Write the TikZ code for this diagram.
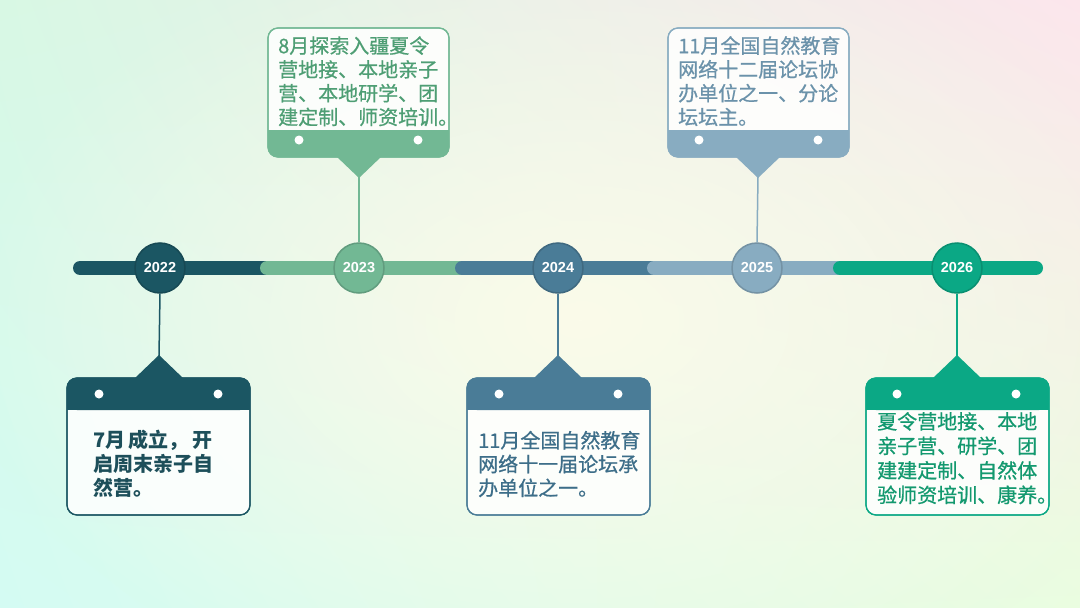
\documentclass[tikz,border=0pt]{standalone}
\usepackage{fontspec}
\usetikzlibrary{fadings,shadings}
\newfontfamily\cjk[FakeBold=0.7]{Noto Sans CJK SC}
\newfontfamily\cjkb{Noto Sans CJK SC}
\newfontfamily\yrfont{Liberation Sans}
\definecolor{bgTL}{HTML}{D8F8E4}
\definecolor{bgTR}{HTML}{FCE6EC}
\definecolor{bgBL}{HTML}{D4FBF3}
\definecolor{bgBR}{HTML}{EAFDE0}
\definecolor{bgC}{HTML}{FBFBEA}
\definecolor{ca}{HTML}{1B5663}
\definecolor{cb}{HTML}{72B894}
\definecolor{cc}{HTML}{4A7C97}
\definecolor{cd}{HTML}{88ACC1}
\definecolor{ce}{HTML}{0BA885}
\definecolor{ta}{HTML}{1D4F5A}
\definecolor{tb}{HTML}{4E9E74}
\definecolor{tc}{HTML}{3D6E89}
\definecolor{td}{HTML}{6B92AA}
\definecolor{te}{HTML}{13996F}
\tikzfading[name=softfade, inner color=transparent!0, outer color=transparent!100]
\tikzset{
  yearnode/.style={circle, minimum size=50pt, inner sep=0pt, line width=1.5pt, text=white, font=\yrfont\bfseries\fontsize{14.5}{14.5}\selectfont},
  bartrack/.style={line width=14pt, line cap=round},
  stem/.style={line width=1.5pt},
  boxbody/.style={fill=white, fill opacity=0.85, line width=1.2pt, rounded corners=10pt},
  dot/.style={fill=white},
  boxtext/.style={anchor=base west, align=left, inner sep=0pt, font=\cjk\fontsize{20}{23.8}\selectfont},
}
\begin{document}
\begin{tikzpicture}[x=1pt, y=-1pt]
\useasboundingbox (0,0) rectangle (1080,608);
% background
\shade[upper left=bgTL, upper right=bgTR, lower left=bgBL, lower right=bgBR] (0,0) rectangle (1080,608);
\fill[bgC, path fading=softfade] (580,320) ellipse (620 and 400);

% timeline bar
\draw[bartrack, ca] (80,268) -- (266,268);
\draw[bartrack, cb] (267,268) -- (460,268);
\draw[bartrack, cc] (462,268) -- (652,268);
\draw[bartrack, cd] (654,268) -- (838,268);
\draw[bartrack, ce] (840,268) -- (1036,268);

% year circles
\node[yearnode, fill=ca, draw=ca!85!black] (c22) at (160,268) {2022};
\node[yearnode, fill=cb, draw=cb!85!black] (c23) at (359,268) {2023};
\node[yearnode, fill=cc, draw=cc!85!black] (c24) at (558,268) {2024};
\node[yearnode, fill=cd, draw=cd!85!black] (c25) at (757,268) {2025};
\node[yearnode, fill=ce, draw=ce!85!black] (c26) at (957,268) {2026};

% ---------- top box 2023 ----------
\draw[boxbody, draw=cb] (268,28) rectangle (449,157);
\fill[cb, rounded corners=10pt] (268,130) rectangle (449,157);
\fill[cb] (268,130) rectangle (449,145);
\draw[cb, line width=1.2pt, rounded corners=10pt] (268,28) rectangle (449,157);
\fill[cb] (336,156) -- (382,156) -- (359,178) -- cycle;
\coordinate (p23) at (359,177);
\fill[dot] (299,140) circle (4.5);
\fill[dot] (418,140) circle (4.5);
\node[boxtext, text=tb] (t23) at (278,124.6) {8月探索入疆夏令\\营地接、本地亲子\\营、本地研学、团\\建定制、师资培训。};
\draw[stem, cb] (p23) -- (c23.north);

% ---------- top box 2025 ----------
\draw[boxbody, draw=cd] (668,28) rectangle (849,157);
\fill[cd, rounded corners=10pt] (668,130) rectangle (849,157);
\fill[cd] (668,130) rectangle (849,145);
\draw[cd, line width=1.2pt, rounded corners=10pt] (668,28) rectangle (849,157);
\fill[cd] (735,156) -- (781,156) -- (758,178) -- cycle;
\coordinate (p25) at (758,177);
\fill[dot] (699,140) circle (4.5);
\fill[dot] (818,140) circle (4.5);
\node[boxtext, text=td] (t25) at (678,124.6) {11月全国自然教育\\网络十二届论坛协\\办单位之一、分论\\坛坛主。};
\draw[stem, cd] (p25) -- (c25.north);

% ---------- bottom box 2022 ----------
\draw[boxbody, draw=ca] (67,378) rectangle (250,515);
\fill[ca, rounded corners=10pt] (67,378) rectangle (250,410);
\fill[ca] (67,395) rectangle (250,410);
\draw[ca, line width=1.2pt, rounded corners=10pt] (67,378) rectangle (250,515);
\fill[ca] (134,379) -- (184,379) -- (159,355) -- cycle;
\coordinate (p22) at (159,356);
\fill[dot] (99,394) circle (4.5);
\fill[dot] (218,394) circle (4.5);
\node[boxtext, text=ta, font=\cjkb\bfseries\fontsize{20}{23.8}\selectfont] (t22) at (93,495) {7月\,成立，\,开\\启周末亲子自\\然营。};
\draw[stem, ca] (c22.south) -- (p22);

% ---------- bottom box 2024 ----------
\draw[boxbody, draw=cc] (467,378) rectangle (650,515);
\fill[cc, rounded corners=10pt] (467,378) rectangle (650,410);
\fill[cc] (467,395) rectangle (650,410);
\draw[cc, line width=1.2pt, rounded corners=10pt] (467,378) rectangle (650,515);
\fill[cc] (533,379) -- (583,379) -- (558,355) -- cycle;
\coordinate (p24) at (558,356);
\fill[dot] (499,394) circle (4.5);
\fill[dot] (618,394) circle (4.5);
\node[boxtext, text=tc] (t24) at (478,495.5) {11月全国自然教育\\网络十一届论坛承\\办单位之一。};
\draw[stem, cc] (c24.south) -- (p24);

% ---------- bottom box 2026 ----------
\draw[boxbody, draw=ce] (866,378) rectangle (1049,515);
\fill[ce, rounded corners=10pt] (866,378) rectangle (1049,410);
\fill[ce] (866,395) rectangle (1049,410);
\draw[ce, line width=1.2pt, rounded corners=10pt] (866,378) rectangle (1049,515);
\fill[ce] (932,379) -- (982,379) -- (957,355) -- cycle;
\coordinate (p26) at (957,356);
\fill[dot] (897,394) circle (4.5);
\fill[dot] (1016,394) circle (4.5);
\node[boxtext, text=te, font=\cjk\fontsize{20}{24.5}\selectfont] (t26) at (877,502.5) {夏令营地接、本地\\亲子营、研学、团\\建建定制、自然体\\验师资培训、康养。};
\draw[stem, ce] (c26.south) -- (p26);
\end{tikzpicture}
\end{document}
